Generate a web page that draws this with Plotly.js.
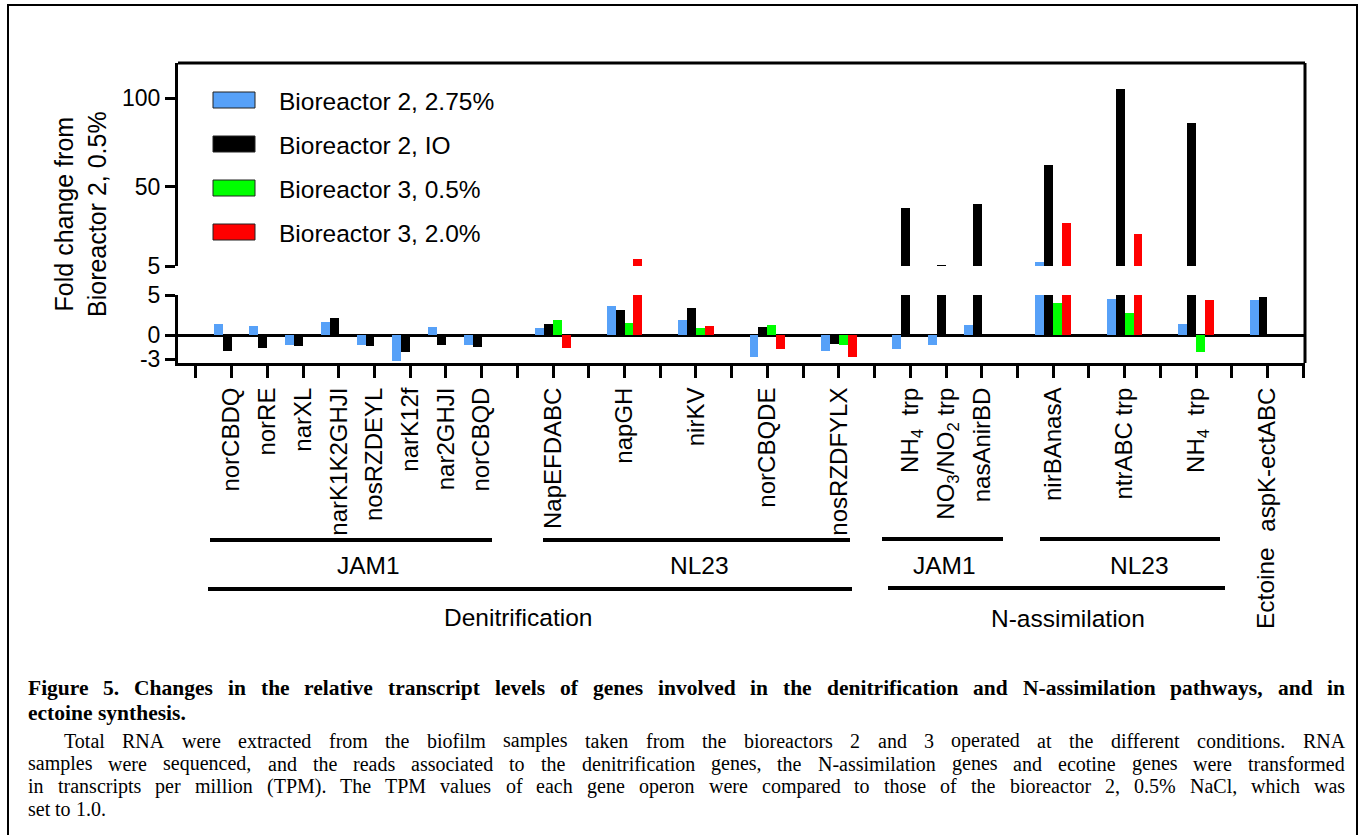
<!DOCTYPE html>
<html>
<head>
<meta charset="utf-8">
<script src="https://cdn.plot.ly/plotly-3.0.1.min.js"></script>
<style>html,body{margin:0;padding:0;background:#fff;}</style>
</head>
<body>
<div id="chart" style="width:1359px;height:835px;"></div>
<script>
// ---------------- data ----------------
const genes = ['', 'norCBDQ', 'norRE', 'narXL', 'narK1K2GHJI', 'nosRZDEYL', 'narK12f', 'nar2GHJI', 'norCBQD',
  '', 'NapEFDABC', '', 'napGH', '', 'nirKV', '', 'norCBQDE', '', 'nosRZDFYLX',
  '', 'NH<sub>4</sub>  trp', 'NO<sub>3</sub>/NO<sub>2</sub> trp', 'nasAnirBD', '', 'nirBAnasA', '', 'ntrABC trp', '', 'NH<sub>4</sub>  trp',
  '', 'aspK-ectABC'];
const seriesNames = ['Bioreactor 2, 2.75%', 'Bioreactor 2, IO', 'Bioreactor 3, 0.5%', 'Bioreactor 3, 2.0%'];
const bio2_275 = [null, 1.4, 1.1, -1.2, 1.6, -1.2, -3.2, 1.0, -1.2,
  null, 0.9, null, 3.6, null, 1.9, null, -2.7, null, -2.0,
  null, -1.7, -1.2, 1.25, null, 7.3, null, 4.5, null, 1.4, null, 4.4];
const bio2_IO = [null, -2.0, -1.6, -1.4, 2.1, -1.4, -2.1, -1.2, -1.5,
  null, 1.4, null, 3.1, null, 3.4, null, 1.0, null, -1.1,
  null, 38, 5.5, 40, null, 62, null, 105, null, 86, null, 4.75];
const bio3_05 = [null, null, null, null, null, null, null, null, null,
  null, 1.9, null, 1.5, null, 0.9, null, 1.25, null, -1.2,
  null, null, null, null, null, 4.0, null, 2.75, null, -2.1, null, null];
const bio3_20 = [null, null, null, null, null, null, null, null, null,
  null, -1.6, null, 9, null, 1.1, null, -1.7, null, -2.8,
  null, null, null, null, null, 29.5, null, 23, null, 4.4, null, null];
const lowerTicks = [-3, 0, 5];
const upperTicks = [5, 50, 100];
const groupLabels = ['JAM1', 'NL23', 'Denitrification', 'JAM1', 'NL23', 'N-assimilation', 'Ectoine'];
const captionLines = [
  'Figure 5. Changes in the relative transcript levels of genes involved in the denitrification and N-assimilation pathways, and in',
  'ectoine synthesis.',
  'Total RNA were extracted from the biofilm samples taken from the bioreactors 2 and 3 operated at the different conditions. RNA',
  'samples were sequenced, and the reads associated to the denitrification genes, the N-assimilation genes and ecotine genes were transformed',
  'in transcripts per million (TPM). The TPM values of each gene operon were compared to those of the bioreactor 2, 0.5% NaCl, which was',
  'set to 1.0.'
];

// ---------------- styling ----------------
const colors = ['#57a1f8', '#000000', '#00ff00', '#ff0000'];
const W = 1359, H = 835;
const L = 178, R = 1305, T = 63, B = 363;
const px2x = p => (p - L) / (R - L);
const py2y = p => (B - p) / (B - T);
const SANS = 'Liberation Sans, Arial, sans-serif';
const SERIF = 'Liberation Serif, Times New Roman, serif';

const xs = genes.map((g, i) => i);
const labelled = xs.filter(i => genes[i] !== '');
const allSeries = [bio2_275, bio2_IO, bio3_05, bio3_20];

const traces = [];
['y', 'y2'].forEach(ax => {
  allSeries.forEach((vals, k) => {
    traces.push({
      type: 'bar', x: xs, y: vals, name: seriesNames[k], yaxis: ax, xaxis: 'x',
      marker: {color: colors[k], line: {width: 0}}, showlegend: false, hoverinfo: 'x+y'
    });
  });
});

const shapes = [];
const annotations = [];
// frame top & right
shapes.push({type: 'line', xref: 'paper', yref: 'paper', x0: 0, x1: 1, y0: 1, y1: 1, line: {color: '#000', width: 3}});
shapes.push({type: 'line', xref: 'paper', yref: 'paper', x0: 1, x1: 1, y0: 0, y1: 1, line: {color: '#000', width: 3}});
// outer figure border
shapes.push({type: 'rect', xref: 'paper', yref: 'paper', x0: px2x(8), x1: px2x(1357), y0: py2y(5), y1: py2y(845), line: {color: '#000', width: 2}});

// legend (custom)
seriesNames.forEach((n, k) => {
  const cy = 100 + 44 * k;
  shapes.push({type: 'rect', xref: 'paper', yref: 'paper', x0: px2x(213), x1: px2x(255), y0: py2y(cy - 8), y1: py2y(cy + 8),
    fillcolor: colors[k], line: {color: '#222', width: 1}});
  annotations.push({text: n, xref: 'paper', yref: 'paper', x: px2x(277), y: py2y(cy + 1), xanchor: 'left', yanchor: 'middle',
    showarrow: false, font: {family: SANS, size: 24.5, color: '#000'}});
});

// y-axis title
annotations.push({text: 'Fold change from<br>Bioreactor 2, 0.5%', xref: 'paper', yref: 'paper', x: px2x(80), y: py2y(214),
  xanchor: 'center', yanchor: 'middle', textangle: -90, showarrow: false, font: {family: SANS, size: 25, color: '#000'}});

// group lines and labels
const glines = [[210, 492, 540], [543, 850, 540], [208, 852, 589], [882, 1003, 539], [1040, 1220, 539], [888, 1225, 588]];
glines.forEach(g => shapes.push({type: 'line', xref: 'paper', yref: 'paper', x0: px2x(g[0]), x1: px2x(g[1]), y0: py2y(g[2]), y1: py2y(g[2]),
  line: {color: '#000', width: 4}}));
const gpos = [[368, 565], [699, 565], [518, 617], [944, 565], [1139, 565], [1068, 618]];
gpos.forEach((p, i) => annotations.push({text: groupLabels[i], xref: 'paper', yref: 'paper', x: px2x(p[0]), y: py2y(p[1]),
  xanchor: 'center', yanchor: 'middle', showarrow: false, font: {family: SANS, size: 24.5, color: '#000'}}));
annotations.push({text: groupLabels[6], xref: 'paper', yref: 'paper', x: px2x(1265), y: py2y(588), xanchor: 'center', yanchor: 'middle',
  textangle: -90, showarrow: false, font: {family: SANS, size: 24.5, color: '#000'}});

// caption (justified word by word)
const ctx = document.createElement('canvas').getContext('2d');
function capLine(text, py, bold, size, x0, x1, just) {
  ctx.font = (bold ? 'bold ' : '') + size + 'px "Liberation Serif"';
  const words = text.split(' ');
  const widths = words.map(w => ctx.measureText(w).width);
  const total = widths.reduce((a, b) => a + b, 0);
  const gap = (just && words.length > 1) ? (x1 - x0 - total) / (words.length - 1) : ctx.measureText(' ').width;
  let x = x0;
  words.forEach((w, i) => {
    annotations.push({text: bold ? '<b>' + w + '</b>' : w, xref: 'paper', yref: 'paper', x: px2x(x), y: py2y(py),
      xanchor: 'left', yanchor: 'middle', showarrow: false, borderpad: 0, borderwidth: 0,
      font: {family: SERIF, size: size, color: '#000'}});
    x += widths[i] + gap;
  });
}
capLine(captionLines[0], 688, true, 21.5, 28, 1345, true);
capLine(captionLines[1], 713, true, 21.5, 28, 1345, false);
capLine(captionLines[2], 741, false, 20, 64, 1345, true);
capLine(captionLines[3], 763.8, false, 20, 28, 1345, true);
capLine(captionLines[4], 786.4, false, 20, 28, 1345, true);
capLine(captionLines[5], 809, false, 20, 28, 1345, false);

const layout = {
  width: W, height: H,
  margin: {l: L, r: W - R, t: T, b: H - B, pad: 0},
  paper_bgcolor: '#fff', plot_bgcolor: '#fff',
  font: {family: SANS, color: '#000', size: 24},
  barmode: 'group', bargap: 0, bargroupgap: 0,
  showlegend: false,
  xaxis: {
    range: [-0.5, 31.05], tickmode: 'array', tickvals: labelled, ticktext: labelled.map(i => genes[i]), tickangle: -90,
    showline: true, linecolor: '#000', linewidth: 3, ticks: 'outside', ticklen: 12, tickwidth: 3, tickcolor: '#000',
    minor: {ticks: 'outside', ticklen: 12, tickwidth: 3, tickcolor: '#000', tick0: 0, dtick: 1, showgrid: false},
    showgrid: false, zeroline: false, tickfont: {family: SANS, size: 24, color: '#000'}, fixedrange: true
  },
  yaxis: {
    domain: [0, 68 / 300], range: [-3.5, 5], tickmode: 'array', tickvals: lowerTicks, ticktext: lowerTicks.map(String),
    showline: true, linecolor: '#000', linewidth: 3, ticks: 'outside', ticklen: 10, tickwidth: 3, tickcolor: '#000',
    showgrid: false, zeroline: true, zerolinecolor: '#000', zerolinewidth: 3,
    tickfont: {family: SANS, size: 23, color: '#000'}, fixedrange: true
  },
  yaxis2: {
    domain: [97 / 300, 1], range: [5, 120], tickmode: 'array', tickvals: upperTicks, ticktext: upperTicks.map(String),
    showline: true, linecolor: '#000', linewidth: 3, ticks: 'outside', ticklen: 10, tickwidth: 3, tickcolor: '#000',
    showgrid: false, zeroline: false, anchor: 'x',
    tickfont: {family: SANS, size: 23, color: '#000'}, fixedrange: true
  },
  shapes: shapes,
  annotations: annotations
};

Plotly.newPlot('chart', traces, layout, {displayModeBar: false, staticPlot: true});
</script>
</body>
</html>
